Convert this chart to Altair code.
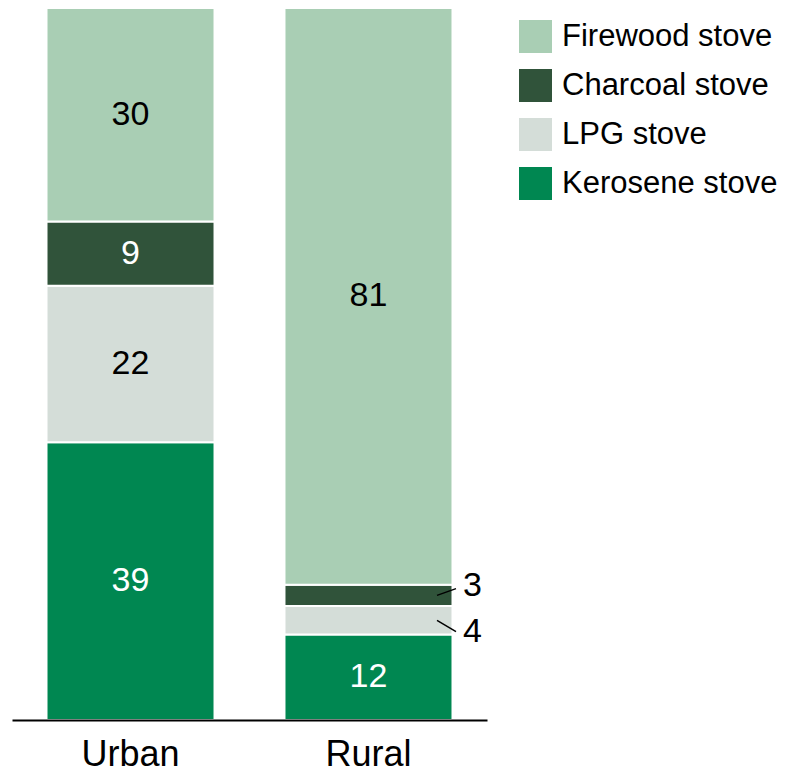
import altair as alt
import pandas as pd

areas = ["Urban", "Urban", "Urban", "Urban", "Rural", "Rural", "Rural", "Rural"]
stoves = ["Kerosene stove", "LPG stove", "Charcoal stove", "Firewood stove",
          "Kerosene stove", "LPG stove", "Charcoal stove", "Firewood stove"]
shares = [39, 22, 9, 30, 12, 4, 3, 81]
stack_rank = [1, 2, 3, 4, 1, 2, 3, 4]

legend_order = ["Firewood stove", "Charcoal stove", "LPG stove", "Kerosene stove"]
stove_colors = ["#a9ceb4", "#30533a", "#d4ddd8", "#008751"]
ink_colors = {"Firewood stove": "black", "Charcoal stove": "white",
              "LPG stove": "black", "Kerosene stove": "white"}

df = pd.DataFrame({"area": areas, "stove": stoves, "share": shares, "rank": stack_rank})
df["ink"] = df["stove"].map(ink_colors)

FONT = "Liberation Sans"

base = alt.Chart(df).transform_stack(
    stack="share", groupby=["area"], as_=["y0", "y1"],
    sort=[alt.SortField("rank", order="ascending")]
).transform_calculate(mid="(datum.y0 + datum.y1) / 2")

x_enc = alt.X(
    "area:N", sort=["Urban", "Rural"],
    scale=alt.Scale(paddingInner=0.294, paddingOuter=0.145),
    axis=alt.Axis(title=None, labelAngle=0, labelFontSize=36, labelFont=FONT,
                  labelColor="black", labelPadding=17, ticks=False, tickSize=0,
                  domainColor="black", domainWidth=2, grid=False, zindex=1),
)
y_scale = alt.Scale(domain=[0, 100], nice=False, zero=True)

bars = base.mark_bar(stroke="white", strokeWidth=2).encode(
    x=x_enc,
    y=alt.Y("y0:Q", scale=y_scale, axis=None),
    y2="y1:Q",
    color=alt.Color(
        "stove:N",
        scale=alt.Scale(domain=legend_order, range=stove_colors),
        legend=alt.Legend(
            title=None, orient="none", legendX=507, legendY=12,
            symbolType="square", symbolSize=1089, symbolStrokeWidth=0,
            symbolOpacity=1, labelFontSize=31, labelFont=FONT, labelColor="black",
            labelOffset=10, rowPadding=16, padding=0, labelLimit=400,
        ),
    ),
)

inside = base.transform_filter("datum.share >= 5").mark_text(
    fontSize=34, font=FONT, baseline="middle", align="center"
).encode(
    x=alt.X("area:N", sort=["Urban", "Rural"]),
    y=alt.Y("mid:Q", scale=y_scale),
    text="share:Q",
    color=alt.Color("ink:N", scale=None),
)

small = base.transform_filter("datum.share < 5").transform_calculate(
    lineEnd="datum.stove == 'Charcoal stove' ? datum.mid + 0.95 : datum.mid - 1.6",
    textY="datum.stove == 'Charcoal stove' ? datum.mid + 1.3 : datum.mid - 1.6",
)

leaders = small.mark_rule(color="black", strokeWidth=1.5).encode(
    x=alt.value(425), x2=alt.value(444),
    y=alt.Y("mid:Q", scale=y_scale), y2="lineEnd:Q",
)

outside = small.mark_text(
    fontSize=34, font=FONT, baseline="middle", align="left", color="black"
).encode(
    x=alt.value(451),
    y=alt.Y("textY:Q", scale=y_scale),
    text="share:Q",
)

chart = alt.layer(bars, inside, leaders, outside).properties(
    width=475, height=712,
    background="white",
    autosize=alt.AutoSizeParams(type="none"),
    padding={"left": 4, "top": 0, "right": 292, "bottom": 52},
).configure_view(stroke=None, strokeWidth=0)

chart.save("out.html", embed_options={"renderer": "svg", "actions": False})
